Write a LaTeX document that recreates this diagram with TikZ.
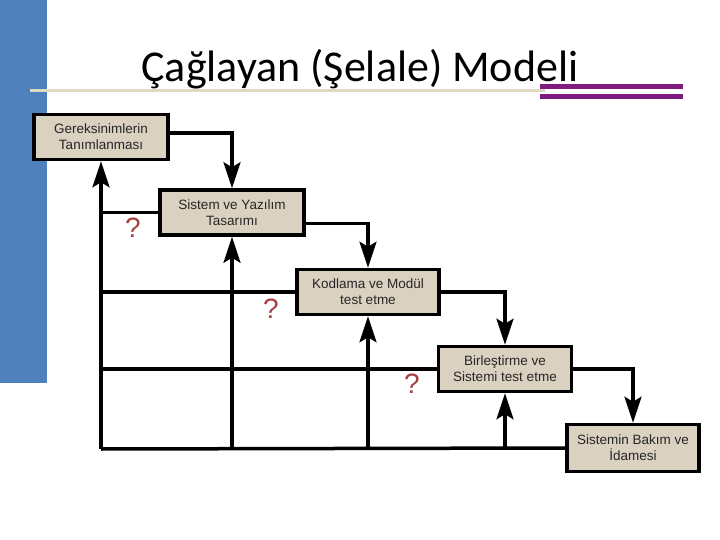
\documentclass[tikz,border=0pt]{standalone}
\usepackage{fontspec}
\setmainfont{Liberation Sans}
\newfontfamily\titlefont{Carlito}
\usetikzlibrary{arrows.meta}
\definecolor{bar}{HTML}{4F81BD}
\definecolor{rule}{HTML}{DDD9C3}
\definecolor{pur}{HTML}{7F1A7F}
\definecolor{sand}{HTML}{DAD1C0}
\definecolor{ask}{HTML}{A5403F}

\begin{document}
\begin{tikzpicture}[x=1pt,y=-1pt,font=\fontsize{13.5}{16}\selectfont,
  phase/.style={draw=black,line width=3.5pt,fill=sand,text=black!85,
    align=center,inner sep=0pt,minimum height=45pt},
  link/.style={line width=3.5pt},
  arr/.style={-{Stealth[length=26pt,width=17pt,inset=5pt]},line width=3.5pt},
  qmark/.style={text=ask,font=\fontsize{28}{30}\selectfont}]
  \useasboundingbox (0,0) rectangle (720,540);
  % slide decoration
  \fill[bar] (0,0) rectangle (47,383);
  \draw[rule,line width=3pt] (30,91) -- (545,91);
  \fill[pur] (540,84) rectangle (683,89);
  \fill[pur] (540,94) rectangle (683,99);
  \node[font=\titlefont\fontsize{44}{50}\selectfont,anchor=base] (title) at (360,82)
    {Çağlayan (Şelale) Modeli};
  % phases
  \node[phase,minimum width=134pt] (req) at (101,137) {Gereksinimlerin\\Tanımlanması};
  \node[phase,minimum width=144pt] (design) at (232,212.5) {Sistem ve Yazılım\\Tasarımı};
  \node[phase,minimum width=142pt] (code) at (368,292) {Kodlama ve Modül\\test etme};
  \node[phase,minimum width=133pt] (integ) at (505,369) {Birleştirme ve\\Sistemi test etme};
  \node[phase,minimum width=132pt,minimum height=47pt] (maint) at (633,448) {Sistemin Bakım ve\\İdamesi};
  % forward flow
  \draw[arr] ([yshift=4pt]req.east) -| (design.north);
  \draw[arr] ([yshift=-11pt]design.east) -| (code.north);
  \draw[arr] (code.east) -| (integ.north);
  \draw[arr] (integ.east) -| (maint.north);
  % feedback
  \coordinate (base) at (101,449);
  \draw[link] (base) -- (maint.west);
  \draw[arr] (base) -- (req.south);
  \foreach \p in {design,code,integ} {
    \draw[link] (\p.west) -- (\p.west -| base);
    \draw[arr] (\p.south |- base) -- (\p.south);
  }
  \node[qmark] (q1) at (133,228) {?};
  \node[qmark] (q2) at (271,309) {?};
  \node[qmark] (q3) at (412,384) {?};
\end{tikzpicture}
\end{document}
